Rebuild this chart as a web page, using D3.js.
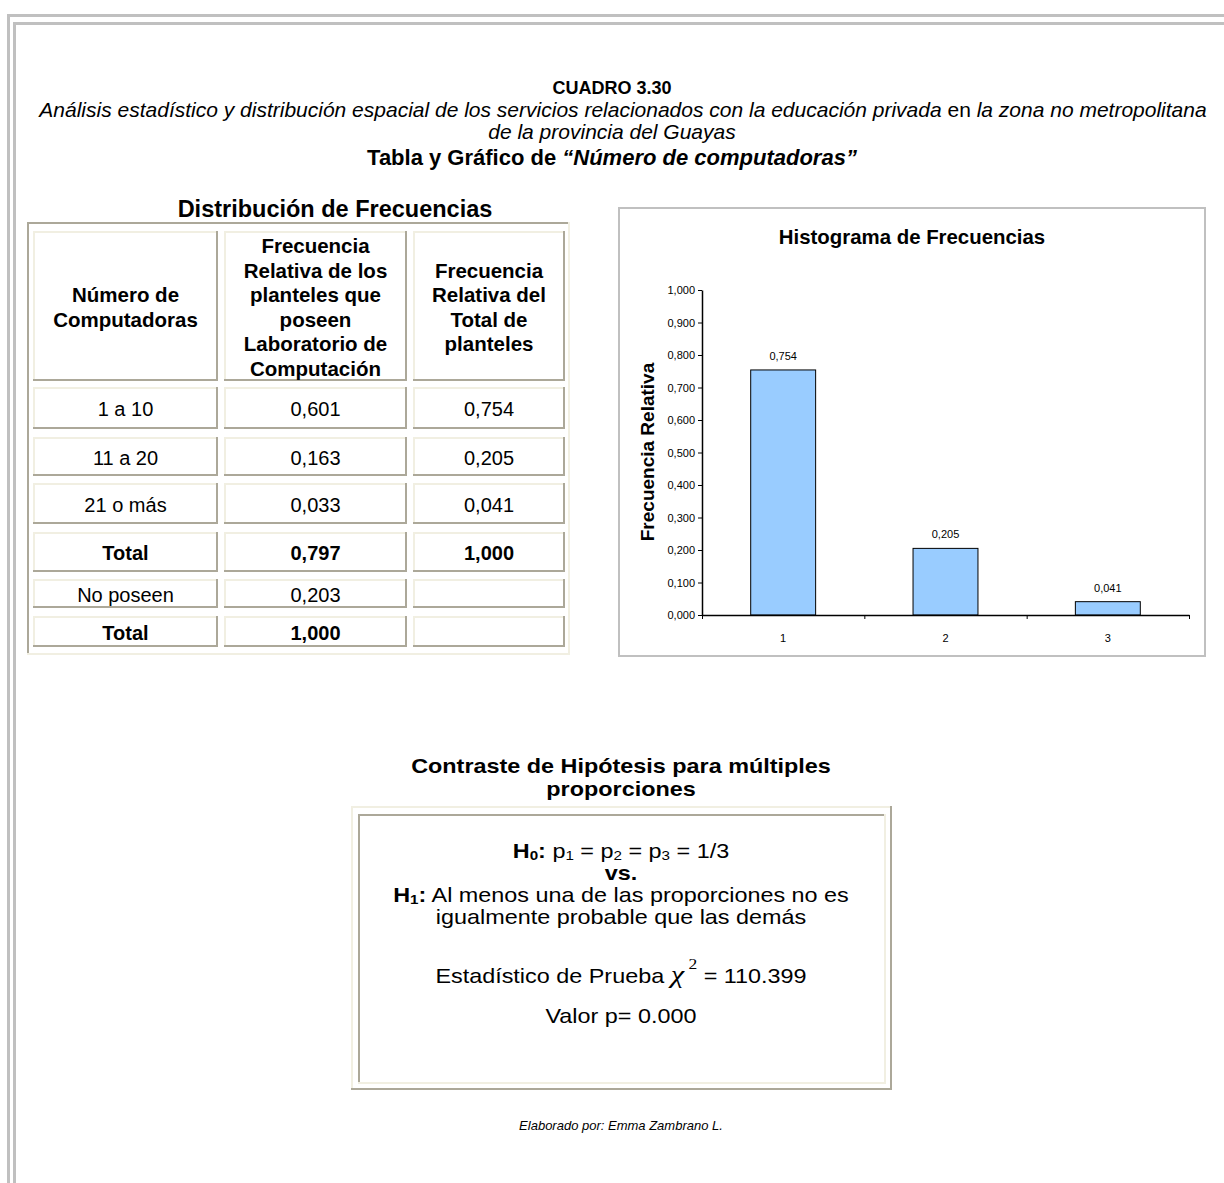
<!DOCTYPE html>
<html>
<head>
<meta charset="utf-8">
<script src="https://cdn.jsdelivr.net/npm/d3@7"></script>
<style>
  body { margin: 0; background: #fff; }
  svg { display: block; font-family: "Liberation Sans", Arial, sans-serif; }
</style>
</head>
<body>
<div id="page"></div>
<script>
// ---- data ----
var headers = [
  ["Número de", "Computadoras"],
  ["Frecuencia", "Relativa de los", "planteles que", "poseen", "Laboratorio de", "Computación"],
  ["Frecuencia", "Relativa del", "Total de", "planteles"]
];
var rowLabels = ["1 a 10", "11 a 20", "21 o más", "Total", "No poseen", "Total"];
var relLab    = ["0,601", "0,163", "0,033", "0,797", "0,203", "1,000"];
var relTotal  = ["0,754", "0,205", "0,041", "1,000", "", ""];
var boldRow   = [false, false, false, true, false, true];

var categories  = ["1", "2", "3"];
var frequencies = [0.754, 0.205, 0.041];

// ---- layout ----
var W = 1224, H = 1183;
var colX = [[33, 218], [224, 407], [413, 565]];
var rowY = [[231, 381], [387, 429], [437, 476], [483, 524], [532, 572], [579, 608], [616, 647]];
var light = "#f1efe2", dark = "#aca899";

var fmt = d3.formatLocale({decimal: ",", thousands: ".", grouping: [3], currency: ["", ""]}).format(".3f");

var svg = d3.select("#page").append("svg")
  .attr("width", W).attr("height", H);

// page frame (double gray line)
var frame = svg.append("g").attr("fill", "#c0c0c0");
frame.append("rect").attr("x", 7).attr("y", 14).attr("width", W - 7).attr("height", 3);
frame.append("rect").attr("x", 7).attr("y", 14).attr("width", 3).attr("height", H - 14);
frame.append("rect").attr("x", 13).attr("y", 22).attr("width", W - 13).attr("height", 3);
frame.append("rect").attr("x", 13).attr("y", 22).attr("width", 3).attr("height", H - 22);

function bevel(g, x0, y0, x1, y1, tl, br) {
  g.append("rect").attr("x", x0).attr("y", y0).attr("width", x1 - x0).attr("height", 2).attr("fill", tl);
  g.append("rect").attr("x", x0).attr("y", y0).attr("width", 2).attr("height", y1 - y0).attr("fill", tl);
  g.append("rect").attr("x", x0).attr("y", y1 - 2).attr("width", x1 - x0).attr("height", 2).attr("fill", br);
  g.append("rect").attr("x", x1 - 2).attr("y", y0).attr("width", 2).attr("height", y1 - y0).attr("fill", br);
}

function centered(parent, x, y, str, size, weight, style) {
  return parent.append("text")
    .attr("x", x).attr("y", y)
    .attr("text-anchor", "middle")
    .attr("dominant-baseline", "central")
    .attr("font-size", size)
    .attr("font-weight", weight || "normal")
    .attr("font-style", style || "normal")
    .text(str);
}

// ---- titles ----
centered(svg, 612, 88, "CUADRO 3.30", 18, "bold");
var sub1 = centered(svg, 623, 109, "", 21, "normal", "italic");
sub1.append("tspan").text("Análisis estadístico y distribución espacial de los servicios relacionados con la educación privada");
sub1.append("tspan").attr("font-style", "normal").text(" en ");
sub1.append("tspan").text("la zona no metropolitana");
centered(svg, 612, 131, "de la provincia del Guayas", 21, "normal", "italic");
var t3 = centered(svg, 612, 157, "Tabla y Gráfico de ", 22, "bold");
t3.append("tspan").attr("font-style", "italic").text("“Número de computadoras”");

// ---- frequency table ----
centered(svg, 335, 209, "Distribución de Frecuencias", 23.5, "bold");
var tbl = svg.append("g");
bevel(tbl, 27, 222, 570, 655, dark, light);

var tableRows = [headers].concat(rowLabels.map(function(d, i) { return [d, relLab[i], relTotal[i]]; }));

tableRows.forEach(function(row, r) {
  var y0 = rowY[r][0], y1 = rowY[r][1];
  row.forEach(function(cell, c) {
    var x0 = colX[c][0], x1 = colX[c][1];
    bevel(tbl, x0, y0, x1, y1, light, dark);
    var lines = Array.isArray(cell) ? cell : [cell];
    var bold = r === 0 || boldRow[r - 1];
    var lh = 24.5;
    var cy = (y0 + y1) / 2 - (lines.length - 1) * lh / 2;
    tbl.selectAll(null).data(lines).enter().append("text")
      .attr("x", (x0 + x1) / 2)
      .attr("y", function(d, i) { return cy + i * lh + 1; })
      .attr("text-anchor", "middle")
      .attr("dominant-baseline", "central")
      .attr("font-size", r === 0 ? 20.5 : 20)
      .attr("font-weight", bold ? "bold" : "normal")
      .text(function(d) { return d; });
  });
});

// ---- histogram ----
svg.append("rect").attr("x", 619).attr("y", 208).attr("width", 586).attr("height", 448)
  .attr("fill", "none").attr("stroke", "#c0c0c0").attr("stroke-width", 2);

centered(svg, 912, 237, "Histograma de Frecuencias", 20.4, "bold");

var x0 = 702, x1 = 1189, yTop = 290, yBot = 615;
var x = d3.scaleBand().domain(categories).range([x0, x1]).paddingInner(0.6).paddingOuter(0.3);
var xb = d3.scaleLinear().domain([0, categories.length]).range([x0, x1]);
var y = d3.scaleLinear().domain([0, 1]).range([yBot, yTop]);

var chart = svg.append("g");

chart.selectAll("rect.bar").data(frequencies).enter().append("rect")
  .attr("class", "bar")
  .attr("x", function(d, i) { return x(categories[i]); })
  .attr("y", function(d) { return y(d); })
  .attr("width", x.bandwidth())
  .attr("height", function(d) { return y(0) - y(d); })
  .attr("fill", "#99ccff")
  .attr("stroke", "#000")
  .attr("stroke-width", 1);

chart.selectAll("text.val").data(frequencies).enter().append("text")
  .attr("class", "val")
  .attr("x", function(d, i) { return x(categories[i]) + x.bandwidth() / 2; })
  .attr("y", function(d) { return y(d) - 10; })
  .attr("text-anchor", "middle")
  .attr("font-size", 11)
  .text(function(d) { return fmt(d); });

var yAxis = chart.append("g")
  .attr("transform", "translate(" + x0 + ",0)")
  .call(d3.axisLeft(y).ticks(10).tickSize(4).tickSizeOuter(0).tickFormat(fmt));
yAxis.selectAll("text").attr("font-size", 11).attr("font-family", "Liberation Sans, Arial, sans-serif").attr("x", -7);

chart.append("g")
  .attr("transform", "translate(0," + yBot + ")")
  .call(d3.axisBottom(xb).tickValues(d3.range(categories.length + 1)).tickSize(4).tickSizeOuter(0).tickFormat(""));

chart.selectAll(".domain").attr("stroke", "#000").attr("stroke-width", 1.5);

chart.selectAll("text.cat").data(categories).enter().append("text")
  .attr("class", "cat")
  .attr("x", function(d) { return x(d) + x.bandwidth() / 2; })
  .attr("y", 638)
  .attr("text-anchor", "middle")
  .attr("dominant-baseline", "central")
  .attr("font-size", 11)
  .text(function(d) { return d; });

svg.append("text")
  .attr("transform", "translate(647,452) rotate(-90)")
  .attr("text-anchor", "middle")
  .attr("dominant-baseline", "central")
  .attr("font-size", 19)
  .attr("font-weight", "bold")
  .text("Frecuencia Relativa");

// ---- hypothesis test ----
var hb = svg.append("g");
bevel(hb, 351, 806, 892, 1090, light, dark);
bevel(hb, 358, 814, 886, 1084, dark, light);

// text of this block is drawn a little wider than normal, as in the source
var ht = svg.append("g").attr("transform", "translate(621,0) scale(1.17,1)");

centered(ht, 0, 766, "Contraste de Hipótesis para múltiples", 20, "bold");
centered(ht, 0, 789, "proporciones", 20, "bold");

function subText(t, parts) {
  parts.forEach(function(p) {
    var ts = t.append("tspan").text(p.t);
    if (p.b) ts.attr("font-weight", "bold");
    if (p.sub) ts.attr("font-size", 13).attr("dy", 4);
    if (p.back) ts.attr("dy", -4);
  });
}

var h0 = centered(ht, 0, 851, "", 20);
subText(h0, [
  {t: "H", b: true}, {t: "0", b: true, sub: true}, {t: ":", b: true, back: true},
  {t: " p"}, {t: "1", sub: true}, {t: " = p", back: true}, {t: "2", sub: true},
  {t: " =  p", back: true}, {t: "3", sub: true}, {t: " =  1/3", back: true}
]);
centered(ht, 0, 873, "vs.", 20, "bold");
var h1 = centered(ht, 0, 895, "", 20);
subText(h1, [
  {t: "H", b: true}, {t: "1", b: true, sub: true}, {t: ":", b: true, back: true},
  {t: " Al menos una de las proporciones no es"}
]);
centered(ht, 0, 917, "igualmente probable que  las demás", 20);

var est = centered(ht, 0, 976, "Estadístico de Prueba  ", 20);
est.append("tspan").attr("font-family", "Liberation Serif, Times New Roman, serif")
  .attr("font-style", "italic").attr("font-size", 26).attr("dy", -2).text("χ");
est.append("tspan").attr("font-family", "Liberation Serif, Times New Roman, serif")
  .attr("font-size", 15).attr("dy", -11).text(" 2");
est.append("tspan").attr("dy", 13).text(" = 110.399");
centered(ht, 0, 1016, "Valor p= 0.000", 20);

centered(svg, 621, 1125, "Elaborado por: Emma Zambrano L.", 13, "normal", "italic");
</script>
</body>
</html>
